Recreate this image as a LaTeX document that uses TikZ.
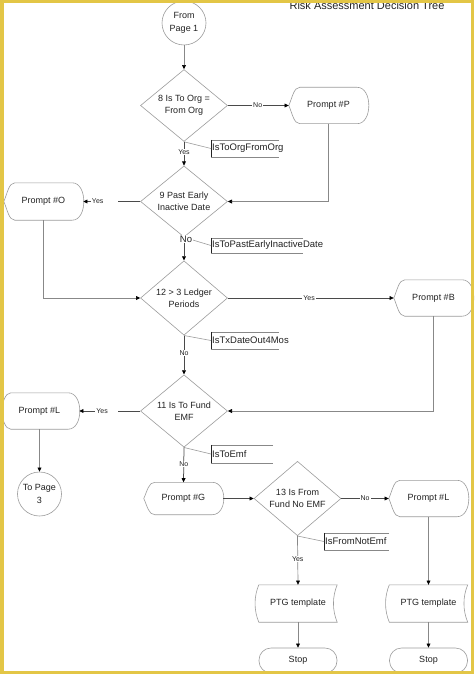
\documentclass[tikz,border=0pt]{standalone}
\usepackage{fontspec}
\setmainfont{Liberation Sans}
\usetikzlibrary{shapes.geometric,arrows.meta,calc}
\definecolor{frameyellow}{HTML}{E3C646}
\definecolor{shapegray}{HTML}{9C9C9C}
\definecolor{linegray}{HTML}{4A4A4A}
\definecolor{fbgray}{HTML}{888888}
\definecolor{txt}{HTML}{222222}
\newcommand\promptoutline[1]{%
  \draw[shapeline] (#1.west)
    .. controls ($(#1.west)+(3.5,-8)$) and ($(#1.north west)+(5,0)$) .. ($(#1.north west)+(11,0)$)
    -- ($(#1.north east)+(-11,0)$)
    .. controls ($(#1.north east)+(4.5,0)$) and ($(#1.south east)+(4.5,0)$) .. ($(#1.south east)+(-11,0)$)
    -- ($(#1.south west)+(11,0)$)
    .. controls ($(#1.south west)+(5,0)$) and ($(#1.west)+(3.5,8)$) .. cycle;}
\newcommand\tapeoutline[1]{%
  \draw[shapeline] (#1.north west) -- (#1.north east)
    .. controls ($(#1.north east)+(-5,12)$) and ($(#1.south east)+(-5,-12)$) .. (#1.south east)
    -- (#1.south west)
    .. controls ($(#1.south west)+(-5,-12)$) and ($(#1.north west)+(-5,12)$) .. cycle;}
\newcommand\labelbox[6]{%
  \node[lbox, minimum height=#4pt] (#1) at (#2,#3) {#6};
  \draw[lboxline] (#1.north west) ++(#5,0) -- (#1.north west);
  \draw[lboxline] (#1.south west) -- ++(#5,0);
  \draw[lboxedge] (#1.north west) -- (#1.south west);}
\begin{document}
\begin{tikzpicture}[x=1pt,y=-1pt,
  every node/.style={text=txt},
  decision/.style={diamond, draw=shapegray, line width=0.6pt, minimum width=87pt,
    minimum height=69pt, inner sep=0pt, align=center, font=\fontsize{9}{12}\selectfont},
  promptnode/.style={rectangle, minimum width=79pt, minimum height=36pt, inner sep=0pt,
    font=\fontsize{9}{11}\selectfont},
  tapenode/.style={rectangle, minimum width=78pt, minimum height=37pt, inner sep=0pt,
    font=\fontsize{9}{11}\selectfont},
  stopnode/.style={rectangle, rounded corners=12pt, draw=shapegray, line width=0.6pt,
    minimum width=78pt, minimum height=25pt, inner sep=0pt, font=\fontsize{9}{11}\selectfont},
  pagenode/.style={circle, draw=shapegray, line width=0.6pt, minimum size=44pt, inner sep=0pt,
    align=center, font=\fontsize{9}{13}\selectfont},
  shapeline/.style={draw=shapegray, line width=0.6pt},
  tip/.style={-{Triangle[length=4.2pt,width=3.8pt,color=black]}},
  connector/.style={draw=linegray, line width=0.75pt, tip},
  feedback/.style={draw=fbgray, line width=0.7pt, tip},
  smalllabel/.style={fill=white, inner xsep=1pt, inner ysep=0.5pt, font=\fontsize{7}{8}\selectfont},
  biglabel/.style={fill=white, inner xsep=1pt, inner ysep=0.5pt, font=\fontsize{9.5}{10}\selectfont},
  lbox/.style={anchor=west, inner xsep=1pt, inner ysep=0pt, font=\fontsize{9.5}{11}\selectfont},
  lboxline/.style={draw=fbgray, line width=0.6pt},
  lboxedge/.style={draw=txt, line width=0.8pt},
  boxlink/.style={draw=shapegray, line width=0.6pt}
]
\useasboundingbox (0,0) rectangle (474,674);
\fill[white] (0,0) rectangle (474,674);

% title
\node[anchor=base, font=\fontsize{11}{12}\selectfont] (title) at (367,9.5) {Risk Assessment Decision Tree};

% nodes
\node[pagenode] (c1) at (184,23) {From\\Page 1};
\node[decision] (d1) at (184,105.5) {8 Is To Org =\\From Org};
\node[promptnode] (pP) at (328.5,105.5) {Prompt \#P};
\node[decision, minimum height=67pt] (d2) at (184,201.5) {9 Past Early\\Inactive Date};
\node[promptnode, minimum height=37pt] (pO) at (43.5,201.5) {Prompt \#O};
\node[decision, minimum height=70pt] (d3) at (184,298) {12 > 3 Ledger\\Periods};
\node[promptnode] (pB) at (433.5,298) {Prompt \#B};
\node[decision, minimum height=68.5pt] (d4) at (184,411) {11 Is To Fund\\EMF};
\node[promptnode] (pL1) at (39.5,411) {Prompt \#L};
\node[pagenode] (c2) at (39.5,494) {To Page\\3};
\node[promptnode, minimum height=32pt] (pG) at (183.5,498.5) {Prompt \#G};
\node[decision] (d5) at (297.5,498.5) {13 Is From\\Fund No EMF};
\node[promptnode] (pL2) at (428.5,498.5) {Prompt \#L};
\node[tapenode] (t1) at (298,603.5) {PTG template};
\node[tapenode] (t2) at (428.5,603.5) {PTG template};
\node[stopnode] (s1) at (298,660.5) {Stop};
\node[stopnode] (s2) at (428.5,660.5) {Stop};

\promptoutline{pP}
\promptoutline{pO}
\promptoutline{pB}
\promptoutline{pL1}
\promptoutline{pG}
\promptoutline{pL2}
\tapeoutline{t1}
\tapeoutline{t2}

% label boxes
\labelbox{b1}{211}{148.5}{17}{68}{IsToOrgFromOrg}
\labelbox{b2}{211}{245.5}{15}{92}{IsToPastEarlyInactiveDate}
\labelbox{b3}{211}{340.5}{17}{68}{IsTxDateOut4Mos}
\labelbox{b4}{211}{454}{18}{62}{IsToEmf}
\labelbox{b5}{324}{541.5}{17}{65}{IsFromNotEmf}
\draw[boxlink] (d1.south) -- (b1.west);
\draw[boxlink] (d2.south) -- (b2.west);
\draw[boxlink] (d3.south) -- (b3.west);
\draw[boxlink] (d4.south) -- (b4.west);
\draw[boxlink] (d5.south) -- (b5.west);

% connectors
\draw[feedback] (c1.south) -- (d1.north);
\draw[connector] (d1.east) -- node[smalllabel, pos=0.49] {No} (pP.west);
\draw[connector] (d1.south) -- node[smalllabel, pos=0.44] {Yes} (d2.north);
\draw[feedback] (pP.south) |- (d2.east);
\draw[connector] (d2.west) -- node[smalllabel, pos=0.87, anchor=west] {Yes\hspace*{14pt}} (pO.east);
\draw[connector] (d2.south) -- node[biglabel, pos=0.08, xshift=2pt] {No} (d3.north);
\draw[feedback] (pO.south) |- (d3.west);
\draw[connector] (d3.east) -- node[smalllabel, pos=0.49] {Yes} (pB.west);
\draw[connector] (d3.south) -- node[smalllabel, pos=0.455] {No} (d4.north);
\draw[feedback] (pB.south) |- (d4.east);
\draw[connector] (d4.west) -- node[smalllabel, pos=0.74, anchor=west] {Yes\hspace*{9pt}} (pL1.east);
\draw[feedback] (pL1.south) -- (c2.north);
\draw[connector] (d4.south) -- node[smalllabel, pos=0.47] {No} (pG.north);
\draw[connector] (pG.east) -- (d5.west);
\draw[connector] (d5.east) -- node[smalllabel, pos=0.5] {No} (pL2.west);
\draw[feedback] (d5.south) -- node[smalllabel, pos=0.48] {Yes} (t1.north);
\draw[feedback] (pL2.south) -- (t2.north);
\draw[feedback] (t1.south) -- (s1.north);
\draw[feedback] (t2.south) -- (s2.north);

% frame
\fill[frameyellow] (0,0) rectangle (474,3);
\fill[frameyellow] (0,670.5) rectangle (474,674);
\fill[frameyellow] (0,0) rectangle (3.5,674);
\fill[frameyellow] (470.5,0) rectangle (474,674);
\end{tikzpicture}
\end{document}
